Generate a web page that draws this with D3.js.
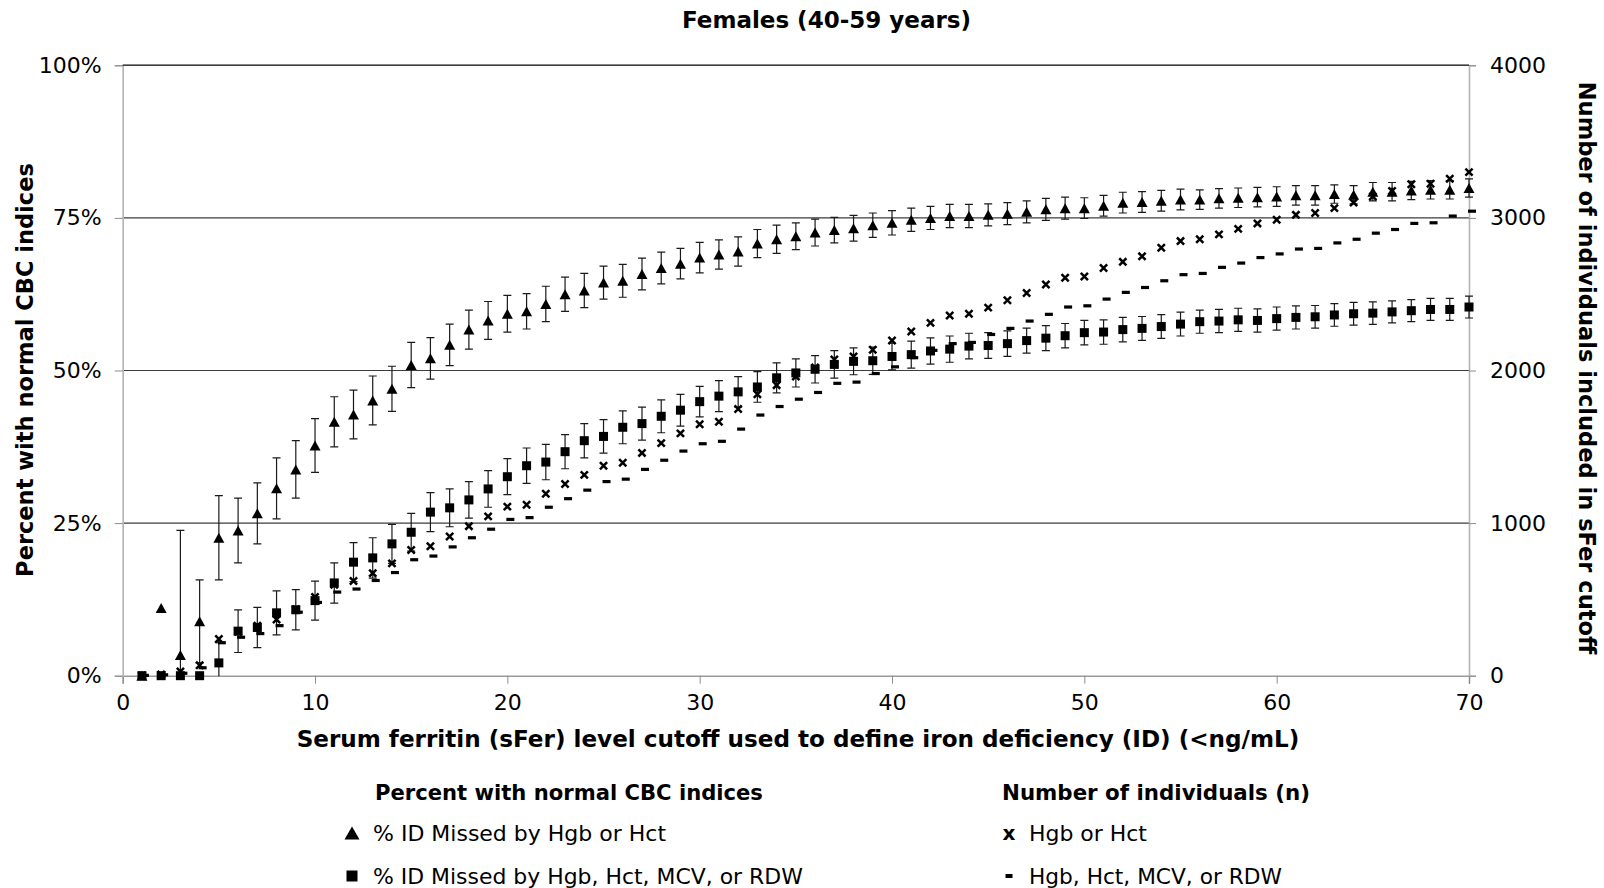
<!DOCTYPE html>
<html>
<head>
<meta charset="utf-8">
<script src="https://cdn.jsdelivr.net/npm/d3@7"></script>
<style>
  html, body { margin: 0; padding: 0; background: #fff; }
  svg { display: block; }
  text { font-family: "DejaVu Sans", Verdana, sans-serif; fill: #000; }
</style>
</head>
<body>
<svg id="chart" width="1604" height="888"></svg>
<script>
// sFer cutoff (ng/mL)
const cutoffs = [1,2,3,4,5,6,7,8,9,10,11,12,13,14,15,16,17,18,19,20,
  21,22,23,24,25,26,27,28,29,30,31,32,33,34,35,36,37,38,39,40,
  41,42,43,44,45,46,47,48,49,50,51,52,53,54,55,56,57,58,59,60,
  61,62,63,64,65,66,67,68,69,70];

// % of ID missed by Hgb or Hct, with error half-widths (percentage points)
const pctHgbHct = [0,11.1,3.4,8.9,22.6,23.8,26.6,30.7,33.8,37.7,
  41.6,42.8,45.1,47.0,50.9,52.0,54.2,56.7,58.2,59.3,
  59.7,60.9,62.5,63.1,64.4,64.7,65.8,66.8,67.5,68.5,
  69.0,69.5,70.8,71.5,72.0,72.6,73.0,73.3,73.8,74.2,
  74.7,75.0,75.3,75.3,75.5,75.7,76.0,76.4,76.6,76.6,
  77.0,77.5,77.6,77.8,78.0,78.0,78.2,78.3,78.4,78.5,
  78.7,78.7,78.9,78.8,79.3,79.3,79.5,79.6,79.6,79.9];
const errHgbHct = [0,0,20.4,6.8,6.9,5.3,5.0,5.0,4.7,4.4,
  4.1,4.0,4.0,3.7,3.7,3.4,3.4,3.2,3.1,3.0,
  2.9,2.9,2.8,2.8,2.7,2.7,2.6,2.6,2.5,2.5,
  2.4,2.4,2.3,2.3,2.2,2.2,2.1,2.1,2.0,2.0,
  1.9,1.9,1.9,1.9,1.8,1.8,1.8,1.8,1.8,1.7,
  1.7,1.7,1.7,1.7,1.7,1.6,1.6,1.6,1.6,1.6,
  1.6,1.6,1.5,1.5,1.5,1.5,1.5,1.5,1.5,1.5];

// % of ID missed by Hgb, Hct, MCV, or RDW, with error half-widths
const pctAll = [0,0,0,0,2.1,7.3,7.9,10.3,10.8,12.3,
  15.2,18.6,19.3,21.6,23.5,26.8,27.5,28.8,30.6,32.6,
  34.4,35.0,36.7,38.5,39.2,40.7,41.3,42.5,43.5,44.9,
  45.8,46.5,47.3,48.8,49.6,50.2,51.0,51.5,51.6,52.3,
  52.6,53.2,53.5,54.0,54.1,54.4,54.9,55.3,55.7,56.2,
  56.3,56.7,56.9,57.2,57.6,58.0,58.1,58.3,58.2,58.5,
  58.7,58.8,59.1,59.3,59.4,59.6,59.8,60.0,60.0,60.4];
const errAll = [0,0,0,0,3.3,3.5,3.3,3.6,3.3,3.2,
  3.3,3.2,3.3,3.2,3.1,3.2,3.1,3.0,3.0,2.95,
  2.9,2.9,2.8,2.8,2.75,2.7,2.7,2.7,2.6,2.5,
  2.55,2.5,2.5,2.45,2.3,2.25,2.25,2.2,2.25,2.2,
  2.2,2.15,2.15,2.1,2.1,2.1,2.05,2.05,2.0,2.0,
  2.0,2.0,1.95,1.95,1.95,1.9,1.9,1.9,1.9,1.9,
  1.9,1.85,1.85,1.85,1.85,1.8,1.8,1.8,1.8,1.8];

// Number of individuals included at each cutoff
const nHgbHct = [2,8,28,68,240,288,328,368,436,516,
  596,620,672,736,824,848,912,980,1044,1108,
  1120,1192,1256,1316,1376,1396,1460,1524,1588,1648,
  1664,1748,1844,1904,1960,2020,2072,2092,2136,2196,
  2256,2312,2360,2372,2412,2460,2508,2564,2608,2616,
  2672,2712,2748,2804,2848,2860,2892,2928,2964,2988,
  3020,3032,3064,3100,3140,3176,3220,3224,3256,3300];
const nAll = [2,6,16,52,216,252,276,328,416,480,
  548,568,624,676,760,784,844,904,960,1024,
  1036,1104,1160,1216,1272,1288,1352,1412,1472,1520,
  1536,1616,1708,1764,1812,1856,1916,1924,1980,2024,
  2084,2132,2176,2184,2236,2276,2324,2368,2416,2424,
  2468,2512,2544,2588,2628,2636,2676,2704,2740,2764,
  2796,2800,2836,2860,2900,2924,2964,2968,3012,3044];

// Axis ticks
const xTicks = [0,10,20,30,40,50,60,70];
const pctTicks = [0,25,50,75,100];
const nTicks = [0,1000,2000,3000,4000];

const chartTitle = "Females (40-59 years)";
const xTitle = "Serum ferritin (sFer) level cutoff used to define iron deficiency (ID) (<ng/mL)";
const yLeftTitle = "Percent with normal CBC indices";
const yRightTitle = "Number of individuals included in sFer cutoff";
const legendHeaders = ["Percent with normal CBC indices", "Number of individuals (n)"];
const legendLabels = ["% ID Missed by Hgb or Hct", "% ID Missed by Hgb, Hct, MCV, or RDW",
  "Hgb or Hct", "Hgb, Hct, MCV, or RDW"];

// ---- layout ----
const plot = { left: 122.7, right: 1469, top: 65.3, bottom: 675.7 };
const svg = d3.select("#chart");

const x = d3.scaleLinear().domain([0, 70]).range([plot.left, plot.right]);
const yPct = d3.scaleLinear().domain([0, 100]).range([plot.bottom, plot.top]);
const yN = d3.scaleLinear().domain([0, 4000]).range([plot.bottom, plot.top]);

// scale a text's font size so it spans the given width
function fitWidth(sel, w) {
  const len = sel.node().getComputedTextLength();
  const fs = parseFloat(sel.attr("font-size"));
  sel.attr("font-size", (fs * w / len).toFixed(2));
  return sel;
}

// gridlines
svg.append("g").selectAll("line")
  .data(pctTicks.filter(d => d > 0))
  .join("line")
  .attr("x1", plot.left).attr("x2", plot.right)
  .attr("y1", d => yPct(d)).attr("y2", d => yPct(d))
  .attr("stroke", "#3c3c3c").attr("stroke-width", 1.2);

// axes
const axisColor = "#b4b4b4";
const gx = svg.append("g").attr("transform", `translate(0,${plot.bottom})`)
  .call(d3.axisBottom(x).tickValues(xTicks).tickSize(8).tickPadding(11).tickFormat(d3.format("d")));
const gl = svg.append("g").attr("transform", `translate(${plot.left},0)`)
  .call(d3.axisLeft(yPct).tickValues(pctTicks).tickSize(8).tickPadding(13).tickFormat(d => d + "%"));
const gr = svg.append("g").attr("transform", `translate(${plot.right},0)`)
  .call(d3.axisRight(yN).tickValues(nTicks).tickSize(7).tickPadding(14).tickFormat(d3.format("d")));
[gx, gl, gr].forEach(g => {
  g.select(".domain").attr("stroke", axisColor).attr("stroke-width", 1.6);
  g.selectAll(".tick line").attr("stroke", "#8c8c8c").attr("stroke-width", 1);
  g.selectAll(".tick text").attr("font-size", 22).attr("font-family", "DejaVu Sans").attr("fill", "#111");
});
gx.select(".domain").attr("stroke", "#9a9a9a");
// the top line of the plot frame
svg.append("line").attr("x1", plot.left).attr("x2", plot.right)
  .attr("y1", plot.top).attr("y2", plot.top).attr("stroke", "#3c3c3c").attr("stroke-width", 1.4);

// error bars (clipped to plot area)
svg.append("clipPath").attr("id", "plotClip").append("rect")
  .attr("x", plot.left - 10).attr("y", plot.top).attr("width", plot.right - plot.left + 20)
  .attr("height", plot.bottom - plot.top + 0.5);

function errorBars(vals, errs) {
  const g = svg.append("g").attr("clip-path", "url(#plotClip)")
    .attr("stroke", "#1a1a1a").attr("stroke-width", 1.2).attr("fill", "none");
  const data = cutoffs.map((c, i) => ({ c, v: vals[i], e: errs[i] })).filter(d => d.e > 0);
  const cap = 4;
  g.selectAll("path").data(data).join("path")
    .attr("d", d => {
      const cx = x(d.c), y1 = yPct(d.v + d.e), y0 = yPct(d.v - d.e);
      return `M${cx},${y1}V${y0}M${cx - cap},${y1}H${cx + cap}M${cx - cap},${y0}H${cx + cap}`;
    });
}
errorBars(pctHgbHct, errHgbHct);
errorBars(pctAll, errAll);

// marker series
const triPath = (w, h) => `M0,${-h / 2}L${w / 2},${h / 2}L${-w / 2},${h / 2}Z`;

svg.append("g").selectAll("path").data(cutoffs)
  .join("path")
  .attr("transform", (c, i) => `translate(${x(c)},${yPct(pctHgbHct[i])})`)
  .attr("d", triPath(11, 10)).attr("fill", "#000");

svg.append("g").selectAll("rect").data(cutoffs)
  .join("rect")
  .attr("x", c => x(c) - 4.5).attr("y", (c, i) => yPct(pctAll[i]) - 4.5)
  .attr("width", 9).attr("height", 9).attr("fill", "#000");

svg.append("g").attr("stroke", "#000").attr("stroke-width", 2.5)
  .selectAll("path").data(cutoffs)
  .join("path")
  .attr("transform", (c, i) => `translate(${x(c)},${yN(nHgbHct[i])})`)
  .attr("d", "M-3.6,-3.6L3.6,3.6M-3.6,3.6L3.6,-3.6");

svg.append("g").selectAll("rect").data(cutoffs)
  .join("rect")
  .attr("x", c => x(c) - 1).attr("y", (c, i) => yN(nAll[i]) - 1.6)
  .attr("width", 8).attr("height", 3.2).attr("fill", "#000");

// titles
fitWidth(svg.append("text").attr("x", 826.5).attr("y", 20).attr("dy", "0.35em")
  .attr("text-anchor", "middle").attr("font-size", 20).attr("font-weight", "bold")
  .text(chartTitle), 289);

fitWidth(svg.append("text").attr("x", 798).attr("y", 739).attr("dy", "0.35em")
  .attr("text-anchor", "middle").attr("font-size", 20).attr("font-weight", "bold")
  .text(xTitle), 1003);

fitWidth(svg.append("text").attr("transform", "translate(25.6,370) rotate(-90)").attr("dy", "0.35em")
  .attr("text-anchor", "middle").attr("font-size", 20).attr("font-weight", "bold")
  .text(yLeftTitle), 414);

fitWidth(svg.append("text").attr("transform", "translate(1587,368) rotate(90)").attr("dy", "0.35em")
  .attr("text-anchor", "middle").attr("font-size", 20).attr("font-weight", "bold")
  .text(yRightTitle), 573);

// legend
const legend = svg.append("g");
fitWidth(legend.append("text").attr("x", 375).attr("y", 793).attr("dy", "0.35em")
  .attr("font-size", 20).attr("font-weight", "bold").text(legendHeaders[0]), 388);
fitWidth(legend.append("text").attr("x", 1002).attr("y", 793).attr("dy", "0.35em")
  .attr("font-size", 20).attr("font-weight", "bold").text(legendHeaders[1]), 308);

const legendRows = [
  { x: 373, y: 833, w: 293 },
  { x: 373, y: 876, w: 430 },
  { x: 1029, y: 833, w: 118 },
  { x: 1029, y: 876, w: 253 }
];
legendRows.forEach((r, i) => {
  fitWidth(legend.append("text").attr("x", r.x).attr("y", r.y).attr("dy", "0.35em")
    .attr("font-size", 20).text(legendLabels[i]), r.w);
});
legend.append("path").attr("transform", "translate(352,833)").attr("d", triPath(15, 13)).attr("fill", "#000");
legend.append("rect").attr("x", 346.5).attr("y", 870.5).attr("width", 11).attr("height", 11).attr("fill", "#000");
legend.append("text").attr("x", 1009).attr("y", 833).attr("dy", "0.35em").attr("text-anchor", "middle")
  .attr("font-size", 20).attr("font-weight", "bold").text("x");
legend.append("rect").attr("x", 1005.5).attr("y", 874).attr("width", 7).attr("height", 4).attr("fill", "#000");
</script>
</body>
</html>
